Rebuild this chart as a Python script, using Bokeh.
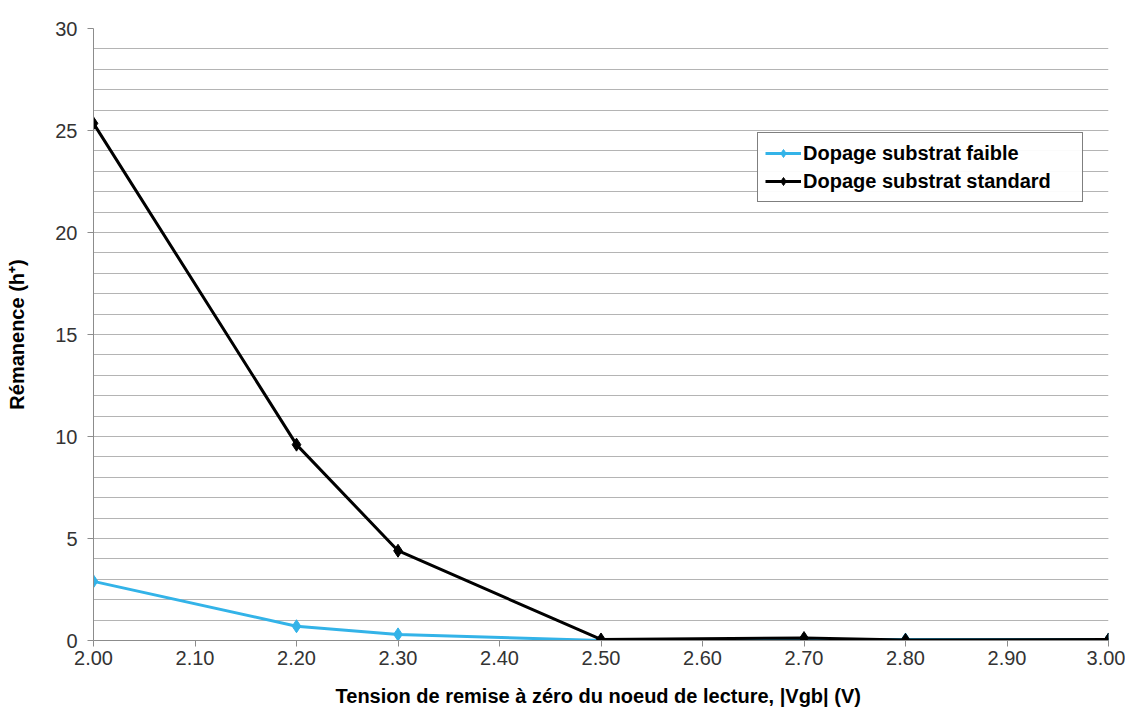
from bokeh.plotting import figure
from bokeh.models import SingleIntervalTicker, NumeralTickFormatter, Legend, LegendItem, Range1d, FixedTicker
from bokeh.embed import file_html
from bokeh.resources import INLINE

x_vals = [2.00, 2.20, 2.30, 2.50, 2.70, 2.80, 3.00]
faible = [2.9, 0.7, 0.3, 0.0, 0.05, 0.05, 0.05]
standard = [25.35, 9.6, 4.4, 0.05, 0.12, 0.03, 0.05]
x_ticks = [2.0, 2.1, 2.2, 2.3, 2.4, 2.5, 2.6, 2.7, 2.8, 2.9, 3.0]
series_names = ["Dopage substrat faible", "Dopage substrat standard"]
colors = ["#33B3E8", "#000000"]

p = figure(width=1125, height=709, output_backend="svg", toolbar_location=None,
           x_range=Range1d(2.0, 3.0), y_range=Range1d(0, 30),
           min_border_left=93, min_border_right=17, min_border_top=28, min_border_bottom=69)
p.outline_line_color = None
p.background_fill_color = "white"
p.border_fill_color = "white"

p.xgrid.grid_line_color = None
p.yaxis.ticker = SingleIntervalTicker(interval=5, num_minor_ticks=5)
p.ygrid.grid_line_color = "#B4B4B4"
p.ygrid.minor_grid_line_color = "#B4B4B4"
p.ygrid.grid_line_width = 1
p.ygrid.minor_grid_line_width = 1

p.xaxis.ticker = FixedTicker(ticks=x_ticks)
p.xaxis.formatter = NumeralTickFormatter(format="0.00")

for ax in (p.xaxis[0], p.yaxis[0]):
    ax.axis_line_color = "#8C8C8C"
    ax.major_tick_line_color = "#8C8C8C"
    ax.major_tick_out = 6
    ax.major_tick_in = 0
    ax.minor_tick_line_color = None
    ax.major_label_text_font = "Liberation Sans"
    ax.major_label_text_font_size = "20px"
    ax.major_label_text_color = "#333333"
    ax.axis_label_text_font = "Liberation Sans"
    ax.axis_label_text_font_size = "20px"
    ax.axis_label_text_font_style = "bold"
    ax.axis_label_text_color = "#000000"

p.xaxis.axis_label = "Tension de remise à zéro du noeud de lecture,  |Vgb| (V)"
p.yaxis.axis_label = "Rémanence (h⁺)"
p.xaxis.major_label_standoff = 4
p.xaxis.axis_label_standoff = 17
p.yaxis.major_label_standoff = 10
p.yaxis.axis_label_standoff = 24

items = []
for name, ys, c in zip(series_names, [faible, standard], colors):
    l = p.line(x_vals, ys, line_color=c, line_width=3)
    m = p.scatter(x_vals, ys, marker="diamond", size=13, fill_color=c, line_color=c)
    items.append(LegendItem(label=name, renderers=[l, m]))

legend = Legend(items=items, location=(664, 438))
legend.border_line_color = "black"
legend.border_line_width = 1
legend.label_text_font = "Liberation Sans"
legend.label_text_font_size = "20px"
legend.label_text_font_style = "bold"
legend.label_text_color = "#000000"
legend.glyph_width = 36
legend.label_standoff = 2
legend.label_width = 272
legend.label_height = 26
legend.padding = 7
legend.spacing = 2
legend.margin = 0
p.add_layout(legend, "center")

open("out.html", "w").write(file_html(p, INLINE))
